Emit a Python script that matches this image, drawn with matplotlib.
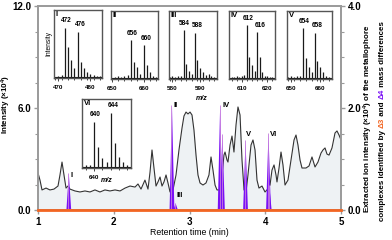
import numpy as np
import matplotlib.pyplot as plt

plt.rcParams['font.family'] = ['Liberation Sans', 'DejaVu Sans']
plt.rcParams['font.weight'] = 'bold'
plt.rcParams['mathtext.fontset'] = 'custom'
plt.rcParams['mathtext.rm'] = 'Liberation Sans:bold'
plt.rcParams['mathtext.bf'] = 'Liberation Sans:bold'
plt.rcParams['mathtext.it'] = 'Liberation Sans:bold:italic'

# total ion trace, left axis (x10^4)
rt = [1.000, 1.026, 1.053, 1.106, 1.158, 1.211, 1.264, 1.290, 1.317, 1.343,
      1.370, 1.396, 1.422, 1.488, 1.554, 1.620, 1.686, 1.752, 1.818, 1.884,
      1.950, 2.017, 2.083, 2.149, 2.215, 2.281, 2.320, 2.360, 2.412, 2.452,
      2.479, 2.505, 2.531, 2.558, 2.584, 2.611, 2.637, 2.663, 2.690, 2.716,
      2.743, 2.782, 2.822, 2.861, 2.901, 2.927, 2.954, 2.980, 3.007, 3.033,
      3.059, 3.086, 3.112, 3.139, 3.178, 3.218, 3.257, 3.284, 3.310, 3.337,
      3.363, 3.403, 3.429, 3.455, 3.469, 3.495, 3.508, 3.535, 3.561, 3.587,
      3.614, 3.640, 3.667, 3.693, 3.720, 3.746, 3.772, 3.812, 3.838, 3.865,
      3.891, 3.917, 3.957, 3.997, 4.023, 4.063, 4.089, 4.116, 4.142, 4.155,
      4.182, 4.208, 4.234, 4.261, 4.300, 4.340, 4.380, 4.406, 4.432, 4.459,
      4.485, 4.538, 4.578, 4.617, 4.657, 4.696, 4.736, 4.762, 4.789, 4.815,
      4.842, 4.881, 4.921, 4.947, 4.974, 5.000]
tic = [2.18, 1.76, 1.18, 1.29, 1.18, 1.23, 1.41, 2.06, 2.82, 2.06,
       1.29, 1.41, 1.23, 1.12, 1.06, 1.12, 1.06, 1.18, 1.06, 1.18,
       1.12, 1.18, 1.12, 1.29, 1.41, 1.35, 1.53, 1.23, 1.76, 1.23,
       2.23, 3.53, 2.47, 1.41, 1.65, 1.94, 1.41, 1.65, 2.06, 1.59,
       1.06, 1.18, 2.06, 3.53, 4.82, 5.53, 5.76, 5.65, 5.76, 5.59,
       4.70, 3.23, 2.06, 1.59, 1.47, 1.59, 2.06, 3.12, 2.35, 1.47,
       1.18, 1.18, 2.06, 3.23, 3.41, 2.94, 2.82, 3.82, 4.35, 3.41,
       5.00, 6.06, 5.59, 2.94, 1.18, 1.06, 2.06, 3.82, 4.12, 3.53,
       1.76, 1.29, 1.41, 1.06, 1.18, 1.47, 2.35, 2.65, 2.06, 1.65,
       2.47, 3.41, 2.65, 1.47, 1.76, 2.94, 4.12, 4.41, 3.82, 2.94,
       2.47, 2.47, 2.59, 3.12, 2.53, 2.82, 3.35, 3.53, 3.65, 3.29,
       3.23, 3.65, 4.53, 4.65, 4.41, 4.12]

# metallophore peaks found by the delta4 difference (right axis, x10^4)
peak_rt = [1.400, 2.762, 2.810, 3.398, 3.428, 3.733, 4.036, 4.046]
peak_int = [0.73, 2.05, 0.14, 2.05, 1.50, 1.37, 1.51, 0.50]
peak_lab = ['I', 'II', 'III', 'IV', '', 'V', 'VI', '']
lab_off = [(2, -3), (2, 0), (1, 7), (3, 0), (0, 0), (1, 6), (2, -2), (0, 0)]

# delta3 trace (nothing found)
d3_rt = [1.0, 5.0]
d3_int = [0.0, 0.0]

# mass spectra of the six peaks
mz_1 = [470, 471, 472, 473, 474, 475, 476, 477, 478, 479, 480, 481, 482, 483]
in_1 = [0.03, 0.04, 0.74, 0.46, 0.26, 0.15, 0.68, 0.24, 0.15, 0.09, 0.06, 0.04, 0.03, 0.03]
mz_2 = [651, 652, 653, 654, 655, 656, 657, 658, 659, 660, 661, 662, 663, 664]
in_2 = [0.03, 0.04, 0.03, 0.05, 0.06, 0.57, 0.25, 0.18, 0.08, 0.50, 0.20, 0.10, 0.04, 0.03]
mz_3 = [579, 580, 581, 582, 583, 584, 585, 586, 587, 588, 589, 590, 591, 592, 593, 594, 595]
in_3 = [0.03, 0.04, 0.03, 0.05, 0.04, 0.72, 0.22, 0.12, 0.08, 0.68, 0.28, 0.16, 0.10, 0.06, 0.07, 0.05, 0.03]
mz_4 = [606, 607, 608, 609, 610, 611, 612, 613, 614, 615, 616, 617, 618, 619, 620, 621, 622]
in_4 = [0.03, 0.03, 0.04, 0.03, 0.05, 0.06, 0.79, 0.32, 0.20, 0.12, 0.69, 0.32, 0.10, 0.05, 0.04, 0.03, 0.03]
mz_5 = [649, 650, 651, 652, 653, 654, 655, 656, 657, 658, 659, 660, 661, 662, 663]
in_5 = [0.03, 0.04, 0.03, 0.05, 0.04, 0.75, 0.31, 0.18, 0.10, 0.68, 0.27, 0.18, 0.10, 0.05, 0.03]
mz_6 = [637, 638, 639, 640, 641, 642, 643, 644, 645, 646, 647, 648]
in_6 = [0.03, 0.04, 0.05, 0.67, 0.30, 0.15, 0.08, 0.80, 0.36, 0.16, 0.08, 0.04]

W, H = 392, 240
purple = '#7a10f5'
orange = '#f26522'
grey = '#9a9a9a'

fig = plt.figure(figsize=(W / 100, H / 100), dpi=100)


def px_rect(x0, y0, x1, y1):
    return [x0 / W, 1 - y1 / H, (x1 - x0) / W, (y1 - y0) / H]


ax = fig.add_axes(px_rect(38, 6, 341, 210))
ax.fill_between(rt, 0, tic, color='#eef2f4', lw=0)
ax.plot(rt, tic, color='#333333', lw=0.8)
ax.set_xlim(1, 5)
ax.set_ylim(0, 12)
ax.set_xticks([1, 2, 3, 4, 5])
ax.set_yticks([0, 6, 12])
ax.set_yticklabels(['0.0', '6.0', '12.0'])
ax.set_yticks(np.arange(0, 12.1, 1.5), minor=True)
ax.set_xlabel('Retention time (min)', fontsize=6.3, labelpad=1)
for s in ax.spines.values():
    s.set_color(grey)
    s.set_linewidth(1.2)
ax.tick_params(colors=grey, labelcolor='black', labelsize=7, length=3, width=1, pad=2)
ax.tick_params(which='minor', colors=grey, length=2, width=0.8)

ax2 = ax.twinx()
ax2.set_ylim(0, 4)
ax2.set_yticks([0, 2, 4])
ax2.set_yticklabels(['0.0', '2.0', '4.0'])
ax2.set_yticks(np.arange(0, 4.01, 0.5), minor=True)
for s in ax2.spines.values():
    s.set_color(grey)
    s.set_linewidth(1.2)
ax2.tick_params(colors=grey, labelcolor='black', labelsize=7, length=3, width=1, pad=2)
ax2.tick_params(which='minor', colors=grey, length=2, width=0.8)

hw = 0.032
for t0, h, lab, off in zip(peak_rt, peak_int, peak_lab, lab_off):
    ax2.fill_between([t0 - hw, t0, t0 + hw], 0, [0, h, 0], color=purple, lw=0)
    ax2.vlines(t0, 0, h, color='#c77dde', lw=0.6)
    if lab:
        ax2.annotate(lab, (t0, h), xytext=off, textcoords='offset pixels',
                     ha='left', va='center', fontsize=5.5)
ax2.plot(d3_rt, d3_int, color=orange, lw=2, clip_on=False, zorder=5)
ax2.set_xlim(1, 5)


def spectrum(rect, mz, inten, xlim, ticks, num, labels):
    a = fig.add_axes(rect)
    a.vlines(mz, 0.02, inten, color='#1a1a1a', lw=0.9)
    a.axhline(0.02, color='#1a1a1a', lw=0.8)
    a.set_xlim(*xlim)
    a.set_ylim(0, 1)
    a.set_yticks([])
    a.set_xticks(ticks)
    a.set_xticks(np.arange(int(xlim[0]) + 1, xlim[1], 2), minor=True)
    a.tick_params(labelsize=4.5, length=2, width=0.7, pad=3, colors='#444444', labelcolor='black')
    a.tick_params(which='minor', length=1.2, width=0.5)
    for s in a.spines.values():
        s.set_color('#555555')
        s.set_linewidth(1.0)
    a.text(0.04, 0.98, num, transform=a.transAxes, ha='left', va='top', fontsize=5.5)
    for k, m in enumerate(labels):
        a.annotate(str(m), (m, inten[mz.index(m)] + 0.05), xytext=(1 + 2 * k, 0),
                   textcoords='offset pixels', ha='center', va='bottom', fontsize=4.7)
    return a


a1 = spectrum(px_rect(54, 10, 102, 78), mz_1, in_1, (468.6, 483.6), [470, 480], 'I', [472, 476])
a1.set_ylabel('Intensity', fontsize=4.8, labelpad=1)
spectrum(px_rect(111, 11, 158, 79), mz_2, in_2, (649.8, 664.5), [650, 660], 'II', [656, 660])
spectrum(px_rect(169, 11, 217, 79), mz_3, in_3, (578.8, 596), [580, 590], 'III', [584, 588])
spectrum(px_rect(229, 11, 275, 79), mz_4, in_4, (605, 623), [610, 620], 'IV', [612, 616])
spectrum(px_rect(287, 11, 332, 79), mz_5, in_5, (648.5, 664), [650, 660], 'V', [654, 658])
spectrum(px_rect(82, 99, 131, 168), mz_6, in_6, (637, 649), [640], 'VI', [640, 644])

fig.text(202 / W, 1 - 99 / H, 'm/z', style='italic', fontsize=5, ha='center', va='center')
fig.text(107 / W, 1 - 181 / H, 'm/z', style='italic', fontsize=5, ha='center', va='center')

fig.text(6 / W, 1 - 104 / H, 'Intensity (\u00d710$^{4}$)', rotation=90,
         ha='center', va='center', fontsize=5.8)
fig.text(368 / W, 0.504, 'Extracted ion intensity (\u00d710$^{4}$) of the metallophore',
         rotation=90, ha='center', va='center', fontsize=5.8)

# second line of right label, with coloured deltas
pieces = [('complexes identified by ', 'black'), ('\u03943', orange), (' and ', 'black'),
          ('\u03944', purple), (' mass differences', 'black')]
first = fig.text(382 / W, 0.02, pieces[0][0], rotation=90, ha='center', va='bottom',
                 fontsize=5.8, color=pieces[0][1])
prev = first
for s, c in pieces[1:]:
    prev = ax.annotate(s, xy=(0, 1), xycoords=prev, va='bottom', ha='left',
                       rotation=90, fontsize=5.8, color=c, annotation_clip=False)
last = prev

fig.canvas.draw()
r = fig.canvas.get_renderer()
y0 = first.get_window_extent(r).y0
y1 = last.get_window_extent(r).y1
shift = ((H * 0.496) - (y0 + y1) / 2) / H
first.set_y(first.get_position()[1] + shift)

plt.savefig('out.png', dpi=100)
